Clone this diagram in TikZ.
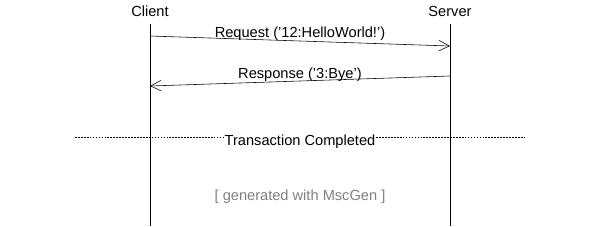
\documentclass[tikz,border=0pt]{standalone}
\usepackage{fontspec}
\setmainfont{Liberation Sans}
\usetikzlibrary{arrows.meta,positioning,calc}

\begin{document}
\begin{tikzpicture}[
x=0.025cm, y=-0.025cm,
every node/.style={font=\fontsize{10.4}{12}\selectfont},
entity/.style={inner sep=1pt},
msg/.style={-{Straight Barb[length=2.6mm, width=2.6mm]}, thin},
msglabel/.style={fill=white, inner sep=0pt, text depth=0pt},
lifeline/.style={thin}
]
\useasboundingbox (0,0) rectangle (600,226);

% --- Entities ---
\node[entity] (client) at (150,11) {Client};
\node[entity] (server) at (450,11) {Server};

% --- Lifeline ends ---
\coordinate (clientend) at (150,226);
\coordinate (serverend) at (450,226);
\draw[lifeline] (150,24) -- (clientend);
\draw[lifeline] (450,24) -- (serverend);

% --- Message points ---
\coordinate (reqfrom) at (150,36);
\coordinate (reqto) at (450,46);
\coordinate (respfrom) at (450,76);
\coordinate (respto) at (150,86);

% --- Messages ---
\draw[msg] (reqfrom) -- (reqto);
\node[msglabel] (request) at (300,32) {Request ('12:HelloWorld!')};
\draw[msg] (respfrom) -- (respto);
\node[msglabel] (response) at (300,73) {Response ('3:Bye')};

% --- Divider ---
\coordinate (divleft) at (75,137);
\coordinate (divright) at (525,137);
\draw[thin, dash pattern=on 1.2pt off 0.9pt] (divleft) -- (divright);
\node[msglabel] (done) at (300,140) {Transaction Completed};

% --- Footer ---
\node[text=gray] (footer) at (300,197) {[ generated with MscGen ]};

\end{tikzpicture}
\end{document}
